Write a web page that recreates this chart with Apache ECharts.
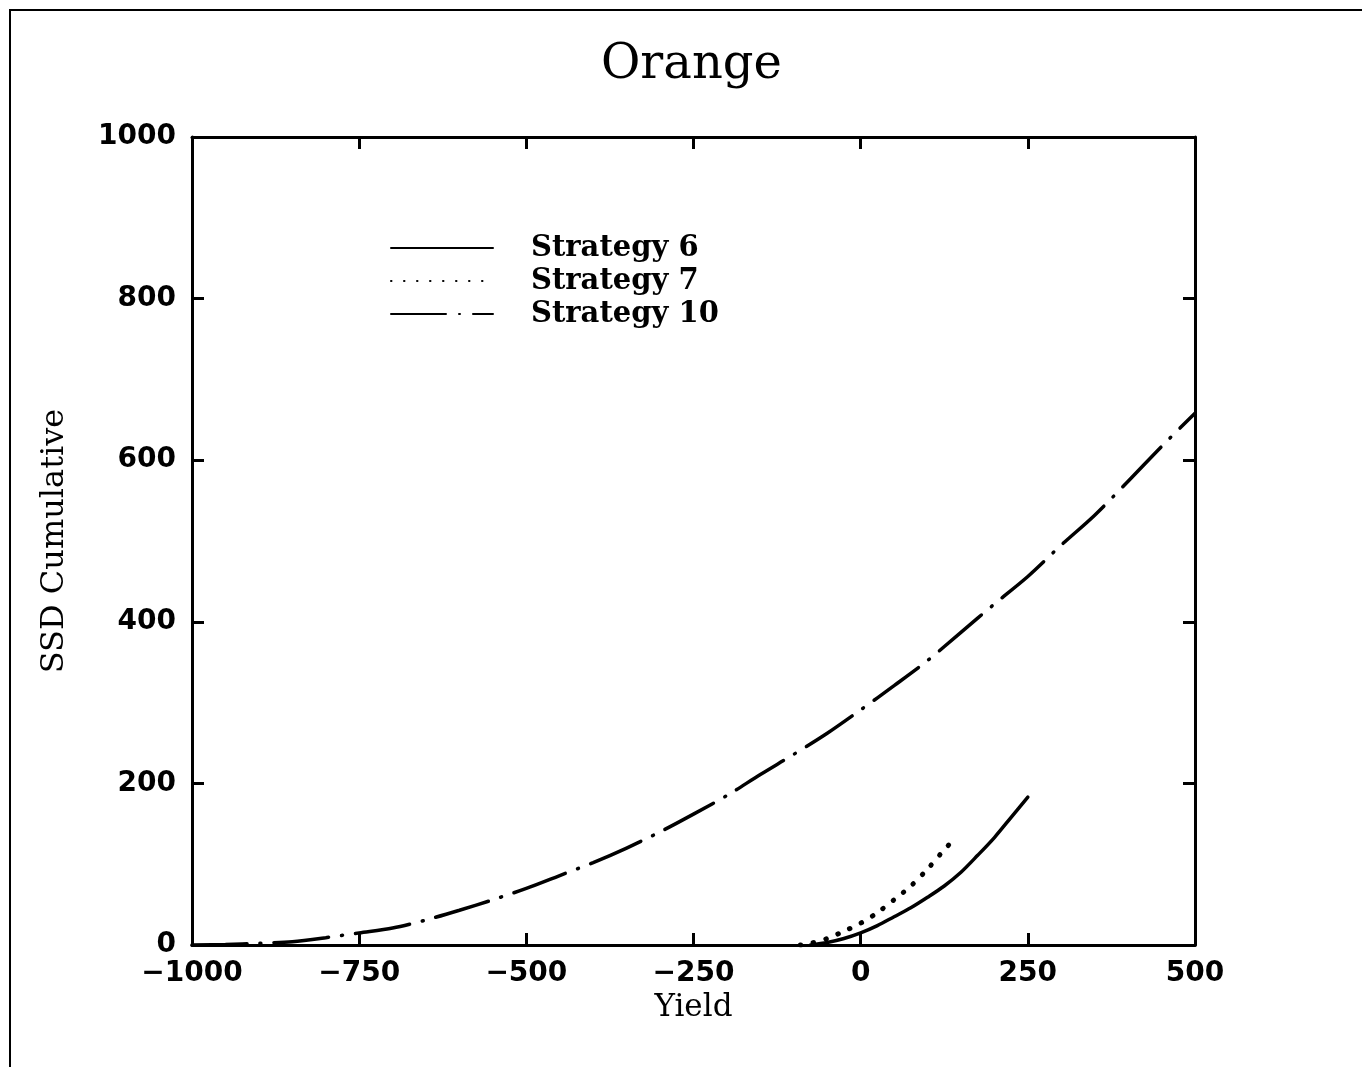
<!DOCTYPE html>
<html>
<head>
<meta charset="utf-8">
<script src="https://cdn.jsdelivr.net/npm/echarts@6/dist/echarts.min.js"></script>
<style>
  html, body { margin: 0; padding: 0; background: #fff; }
  #frame { position: absolute; left: 9px; top: 9px; width: 1360px; height: 1060px;
           border-left: 2px solid #000; border-top: 2px solid #000; }
  #chart { position: absolute; left: 0; top: 0; width: 1362px; height: 1067px; }
</style>
</head>
<body>
<div id="frame"></div>
<div id="chart"></div>
<script>
// ---- data ----
const titleText = 'Orange';
const xAxisName = 'Yield';
const yAxisName = 'SSD Cumulative';
const seriesNames = ['Strategy 6', 'Strategy 7', 'Strategy 10'];

const xTicks = [-1000, -750, -500, -250, 0, 250, 500];
const yTicks = [0, 200, 400, 600, 800, 1000];

const yieldS6 = [-75, -50, -25, 0, 25, 50, 75, 100, 125, 150, 175, 200, 225, 250];
const ssdS6   = [0, 3, 8, 15, 24, 35, 46, 59, 73, 90, 111, 133, 158, 183];

const yieldS7 = [-90, -75, -50, -25, 0, 25, 50, 75, 100, 125, 132];
const ssdS7   = [0, 2, 8, 17, 27, 40, 56, 73, 94, 118, 124];

const yieldS10 = [-1000, -950, -900, -850, -800, -750, -700, -650, -600, -550, -500, -450, -400, -350, -300,
                  -250, -200, -150, -100, -50, 0, 50, 100, 150, 200, 250, 300, 350, 400, 450, 500];
const ssdS10   = [0, 0.5, 2, 4, 9, 15, 21, 31, 43, 56, 70, 86, 102, 120, 140,
                  162, 185, 211, 236, 262, 291, 321, 352, 387, 422, 456, 495, 532, 574, 617, 658];

// ---- chart ----
const pairs = (xs, ys) => xs.map((x, i) => [x, ys[i]]);
const minusFmt = v => String(v).replace('-', '\u2212');

const tickFont = { fontFamily: 'DejaVu Sans', fontWeight: 'bold', fontSize: 28, color: '#000' };
const axisLine = { show: true, onZero: false, lineStyle: { color: '#000', width: 3 } };
const axisTick = { show: true, inside: true, length: 12, lineStyle: { color: '#000', width: 3 } };

const chart = echarts.init(document.getElementById('chart'), null, { renderer: 'canvas' });
chart.setOption({
  backgroundColor: 'transparent',
  animation: false,
  title: {
    text: titleText,
    left: 596,
    top: 37,
    textStyle: { fontFamily: 'DejaVu Serif', fontWeight: 'normal', fontSize: 48, color: '#000' }
  },
  legend: {
    orient: 'vertical',
    left: 390,
    top: 232,
    padding: 0,
    itemWidth: 102,
    itemHeight: 14,
    itemGap: 1,
    selectedMode: false,
    data: seriesNames,
    itemStyle: { opacity: 0 },
    textStyle: { fontFamily: 'DejaVu Serif', fontWeight: 'bold', fontSize: 29, color: '#000',
                 lineHeight: 20, padding: [0, 0, 12, 33] }
  },
  grid: { left: 192, right: 167, top: 137, bottom: 122, containLabel: false },
  xAxis: [
    {
      type: 'value', min: -1000, max: 500, interval: 250,
      name: xAxisName, nameLocation: 'middle', nameGap: 40,
      nameTextStyle: { fontFamily: 'DejaVu Serif', fontSize: 31, color: '#000' },
      axisLine, axisTick, splitLine: { show: false },
      axisLabel: { ...tickFont, margin: 15, formatter: v => xTicks.includes(v) ? minusFmt(v) : '' }
    },
    {
      type: 'value', position: 'top', min: -1000, max: 500, interval: 250,
      axisLine, axisTick, splitLine: { show: false }, axisLabel: { show: false }
    }
  ],
  yAxis: [
    {
      type: 'value', min: 0, max: 1000, interval: 200,
      name: yAxisName, nameLocation: 'middle', nameGap: 121, nameRotate: 90,
      nameTextStyle: { fontFamily: 'DejaVu Serif', fontSize: 32, color: '#000' },
      axisLine, axisTick, splitLine: { show: false },
      axisLabel: { ...tickFont, margin: 16, formatter: v => yTicks.includes(v) ? String(v) : '' }
    },
    {
      type: 'value', position: 'right', min: 0, max: 1000, interval: 200,
      axisLine, axisTick, splitLine: { show: false }, axisLabel: { show: false }
    }
  ],
  series: [
    {
      name: seriesNames[0], type: 'line', smooth: 0.3, symbol: 'none',
      data: pairs(yieldS6, ssdS6),
      lineStyle: { color: '#000', width: 3.5, type: 'solid', cap: 'round' },
      itemStyle: { color: '#000' }
    },
    {
      name: seriesNames[1], type: 'line', smooth: 0.3, symbol: 'none',
      data: pairs(yieldS7, ssdS7),
      lineStyle: { color: '#000', width: 5, type: [0.5, 12.5], cap: 'round' },
      itemStyle: { color: '#000' }
    },
    {
      name: seriesNames[2], type: 'line', smooth: 0.3, symbol: 'none',
      data: pairs(yieldS10, ssdS10),
      lineStyle: { color: '#000', width: 3.5, type: [55, 13, 1, 13], cap: 'round' },
      itemStyle: { color: '#000' }
    }
  ]
});
</script>
</body>
</html>
